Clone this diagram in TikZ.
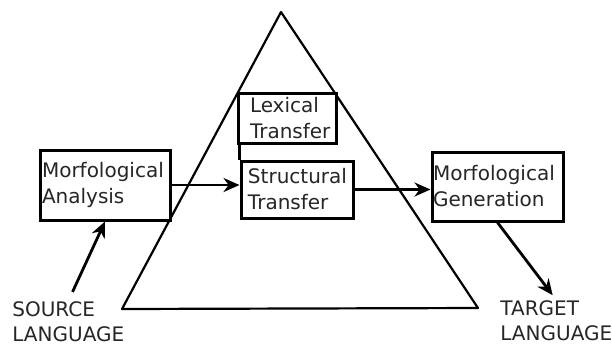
\documentclass[tikz,border=0pt]{standalone}
\usepackage{fontspec}
\setmainfont{DejaVu Sans}
\usepackage{tikz}
\usetikzlibrary{arrows.meta, positioning, calc}

\tikzset{
  box/.style={draw, line width=1.5pt, fill=white, rectangle, align=left,
    font=\fontsize{10}{13}\selectfont, text=black!85, inner ysep=0pt},
  lbl/.style={align=left, inner sep=0pt, font=\fontsize{10}{12.5}\selectfont, text=black!85},
  arr/.style={-{Stealth[length=8pt,width=7pt]}, line width=1.4pt}
}

\begin{document}
\begin{tikzpicture}[x=0.5pt, y=-0.5pt]
        \useasboundingbox (0,0) rectangle (612,345);
        % the pyramid
        \draw[line width=1.1pt, line join=round] (281,12) -- (478,308) -- (122,309) -- cycle;

        \node[box, minimum width=65pt, minimum height=35pt, inner xsep=1pt, text width=63pt] (ana) at (105,185) {Morfological\\Analysis};
        \node[box, minimum width=49pt, minimum height=25pt, inner xsep=6pt, text width=37pt] (lex) at (287,118) {Lexical\\Transfer};
        \node[box, minimum width=56pt, minimum height=28.5pt, inner xsep=3.5pt, text width=49pt] (str) at (297,189.5) {Structural\\Transfer};
        \node[box, minimum width=65.5pt, minimum height=34.5pt, inner xsep=0.5pt, text width=64.5pt] (gen) at (497.5,186.5) {Morfological\\Generation};

        \node[lbl, anchor=north west] (src) at (12,301) {SOURCE\\LANGUAGE};
        \node[lbl, anchor=north west] (tgt) at (500,300) {TARGET\\LANGUAGE};

        \draw[line width=1.5pt] (str.north west |- lex.south) -- (str.north west);
        \draw[arr] (ana.east) -- (ana.east -| str.west);
        \draw[arr] (str.east) -- (str.east -| gen.west);
        \draw[arr, shorten <=5pt] (src.north) -- (ana.south);
        \draw[arr, shorten >=3pt] (gen.south) -- (tgt.north);
    \end{tikzpicture}
\end{document}
